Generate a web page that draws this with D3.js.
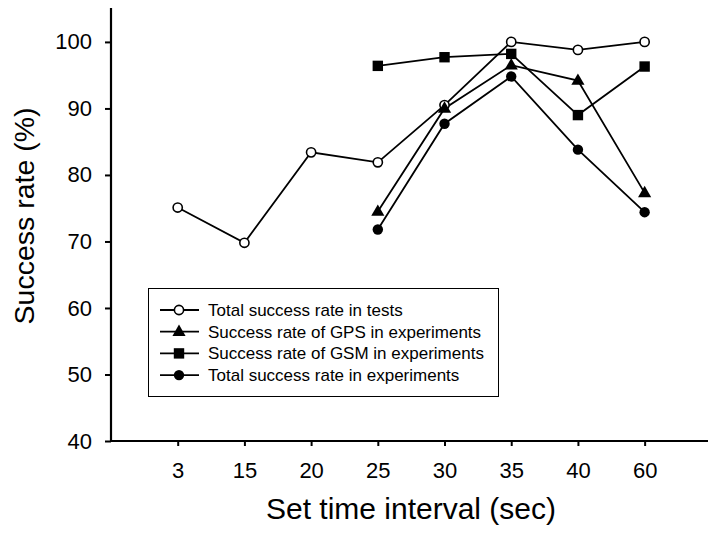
<!DOCTYPE html>
<html>
<head>
<meta charset="utf-8">
<script src="https://cdn.jsdelivr.net/npm/d3@7"></script>
<style>
  body { margin: 0; background: #fff; }
  svg { font-family: "Liberation Sans", Arial, sans-serif; }
</style>
</head>
<body>
<div id="chart"></div>
<script>
// categories along the x axis
const intervals = ["3", "15", "20", "25", "30", "35", "40", "60"];

// series values
const totalTests = [75.1, 69.8, 83.4, 81.9, 90.5, 100.0, 98.8, 100.0];
const gpsExp     = [null, null, null, 74.5, 90.0, 96.5, 94.2, 77.3];
const gsmExp     = [null, null, null, 96.4, 97.7, 98.2, 89.0, 96.3];
const totalExp   = [null, null, null, 71.8, 87.7, 94.8, 83.8, 74.4];

const yTicks = [40, 50, 60, 70, 80, 90, 100];

const seriesNames = [
  "Total success rate in tests",
  "Success rate of GPS in experiments",
  "Success rate of GSM in experiments",
  "Total success rate in experiments"
];

const series = [
  {name: seriesNames[0], values: totalTests, symbol: "openCircle"},
  {name: seriesNames[1], values: gpsExp, symbol: "triangle"},
  {name: seriesNames[2], values: gsmExp, symbol: "square"},
  {name: seriesNames[3], values: totalExp, symbol: "circle"}
];

const W = 708, H = 533;
const margin = {top: 8, right: 0, bottom: 92, left: 111};
const width = W - margin.left - margin.right,
      height = H - margin.top - margin.bottom;

const svg = d3.select("#chart").append("svg")
    .attr("width", W)
    .attr("height", H);

const g = svg.append("g")
    .attr("transform", "translate(" + margin.left + "," + margin.top + ")");

// x positions by index: first category sits one step right of the y axis
const xScale = d3.scaleLinear()
    .domain([0, 8.95])
    .range([0, width]);

const yScale = d3.scaleLinear()
    .domain([40, 105.1])
    .range([height, 0]);

// x axis
const xAxis = g.append("g")
    .attr("transform", "translate(0," + height + ")")
    .call(d3.axisBottom(xScale)
        .tickValues(d3.range(1, intervals.length + 1))
        .tickFormat(i => intervals[i - 1])
        .tickSize(5)
        .tickPadding(16));
xAxis.select(".domain").attr("stroke-width", 2.2).attr("d", "M0,0H" + width);
xAxis.selectAll(".tick line").attr("stroke-width", 2);
xAxis.selectAll("text").attr("font-size", 22).attr("fill", "#000");

// y axis
const yAxis = g.append("g")
    .call(d3.axisLeft(yScale)
        .tickValues(yTicks)
        .tickSize(6)
        .tickPadding(13));
yAxis.select(".domain").attr("stroke-width", 2.2).attr("d", "M0," + height + "V0");
yAxis.selectAll(".tick line").attr("stroke-width", 2);
yAxis.selectAll("text").attr("font-size", 22).attr("fill", "#000");

// axis titles
svg.append("text")
    .attr("x", 411)
    .attr("y", 519)
    .attr("text-anchor", "middle")
    .attr("font-size", 30)
    .text("Set time interval (sec)");

svg.append("text")
    .attr("transform", "translate(34,216) rotate(-90)")
    .attr("text-anchor", "middle")
    .attr("font-size", 28.5)
    .text("Success rate (%)");

// draw a marker at (x, y)
function drawSymbol(sel, type, x, y) {
  if (type === "openCircle") {
    sel.append("circle").attr("cx", x).attr("cy", y).attr("r", 4.6)
      .attr("fill", "#fff").attr("stroke", "#000").attr("stroke-width", 1.6);
  } else if (type === "circle") {
    sel.append("circle").attr("cx", x).attr("cy", y).attr("r", 5.2)
      .attr("fill", "#000");
  } else if (type === "square") {
    sel.append("rect").attr("x", x - 5.2).attr("y", y - 5.2)
      .attr("width", 10.4).attr("height", 10.4).attr("fill", "#000");
  } else if (type === "triangle") {
    sel.append("path")
      .attr("d", d3.symbol().type(d3.symbolTriangle).size(75)())
      .attr("transform", "translate(" + x + "," + (y + 0.5) + ")")
      .attr("fill", "#000");
  }
}

const line = d3.line()
    .defined(d => d.v != null)
    .x(d => xScale(d.i + 1))
    .y(d => yScale(d.v));

series.forEach(s => {
  const pts = s.values.map((v, i) => ({i: i, v: v}));
  g.append("path")
    .datum(pts)
    .attr("fill", "none")
    .attr("stroke", "#000")
    .attr("stroke-width", 1.8)
    .attr("d", line);
});

series.forEach(s => {
  const mk = g.append("g");
  s.values.forEach((v, i) => {
    if (v != null) drawSymbol(mk, s.symbol, xScale(i + 1), yScale(v));
  });
});

// legend
const lg = svg.append("g").attr("transform", "translate(148,288)");
lg.append("rect")
    .attr("x", 0.5).attr("y", 0.5)
    .attr("width", 350).attr("height", 108)
    .attr("fill", "#fff").attr("stroke", "#000").attr("stroke-width", 1);

series.forEach((s, k) => {
  const yy = 22 + k * 21.7;
  lg.append("line")
    .attr("x1", 12).attr("x2", 51)
    .attr("y1", yy).attr("y2", yy)
    .attr("stroke", "#000").attr("stroke-width", 1.8);
  drawSymbol(lg, s.symbol, 31, yy);
  lg.append("text")
    .attr("x", 60).attr("y", yy + 6)
    .attr("font-size", 17)
    .text(s.name);
});
</script>
</body>
</html>
